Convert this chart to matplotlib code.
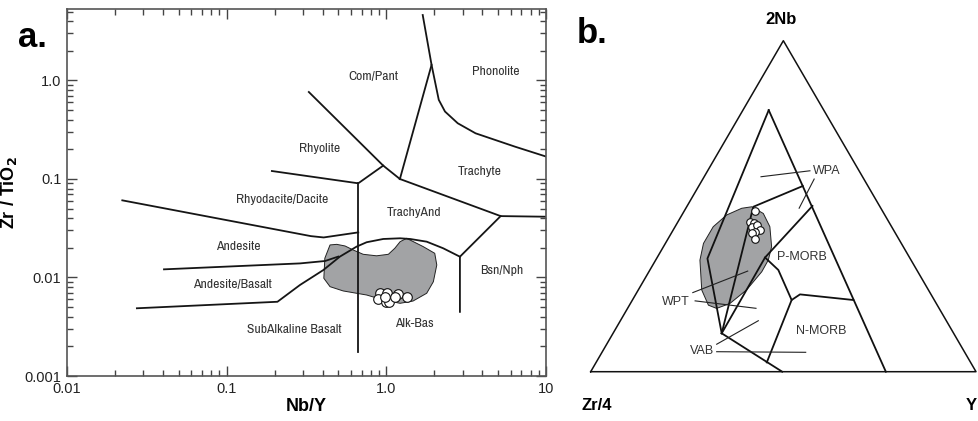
import numpy as np
import matplotlib
matplotlib.use("Agg")
import matplotlib.pyplot as plt
from matplotlib import font_manager
from matplotlib.patches import Polygon
from matplotlib.ticker import LogLocator, NullFormatter

plt.rcParams['font.family'] = ['Liberation Sans', 'DejaVu Sans']

# a narrow face for the field names of panel a, if one is installed
_names = set(f.name for f in font_manager.fontManager.ttflist)
NARROW = dict(family=['Liberation Sans', 'DejaVu Sans'], fontsize=7.4)
for name, size in [('Liberation Sans Narrow', 9.8), ('Arial Narrow', 9.8), ('Archivo Narrow', 9.8)]:
    if name in _names:
        NARROW = dict(family=[name, 'DejaVu Sans'], fontsize=size)
        break

# ---------------- panel a: Zr/TiO2 vs Nb/Y ----------------
rhyodac_and_x = [0.0222, 0.337, 0.405, 0.667]
rhyodac_and_y = [0.0607, 0.0263, 0.0255, 0.0287]
vert_x = [0.667, 0.667]
vert_y = [0.0904, 0.00175]
rhyol_rhyodac_x = [0.192, 0.667, 0.956]
rhyol_rhyodac_y = [0.1205, 0.0904, 0.1367]
rhyol_compant_x = [0.327, 0.956, 1.216]
rhyol_compant_y = [0.764, 0.1367, 0.100]
trachyte_low_x = [1.216, 5.2, 10.0]
trachyte_low_y = [0.100, 0.042, 0.0414]
compant_x = [1.216, 1.92, 1.69]
compant_y = [0.100, 1.44, 4.62]
phonolite_x = [1.92, 2.13, 2.33, 2.80, 3.62, 6.39, 10.0]
phonolite_y = [1.44, 0.636, 0.484, 0.368, 0.291, 0.213, 0.169]
bsn_x = [5.2, 2.89, 2.89]
bsn_y = [0.042, 0.01626, 0.00448]
alkbas_x = [2.89, 2.27, 1.79, 1.41, 1.22, 0.956, 0.753, 0.652, 0.512, 0.403, 0.288, 0.208, 0.0274]
alkbas_y = [0.01626, 0.0198, 0.0231, 0.0246, 0.0250, 0.0246, 0.0228, 0.0206, 0.0163, 0.0119, 0.0084, 0.00567, 0.00487]
and_bas_x = [0.0405, 0.288, 0.413, 0.500]
and_bas_y = [0.0121, 0.0139, 0.0147, 0.0163]

field_a_x = [0.444, 0.412, 0.406, 0.444, 0.537, 0.753, 0.957, 1.22, 1.47, 1.79, 1.97, 2.07,
             2.01, 1.70, 1.34, 1.22, 1.13, 1.03, 0.869, 0.716, 0.621, 0.551, 0.489]
field_a_y = [0.0214, 0.0157, 0.00982, 0.00807, 0.00730, 0.00664, 0.00592, 0.00547, 0.00577,
             0.00692, 0.00906, 0.0134, 0.0176, 0.0206, 0.0250, 0.0231, 0.0198, 0.0172,
             0.0166, 0.0172, 0.0190, 0.0209, 0.0217]

samples_nby = [0.912, 1.01, 1.19, 1.34, 0.889, 0.993, 1.04, 1.13, 0.98]
samples_zrti = [0.00701, 0.00692, 0.00675, 0.00638, 0.00601, 0.00568, 0.00560, 0.00630, 0.00630]

labels_a = ['Com/Pant', 'Phonolite', 'Rhyolite', 'Trachyte', 'Rhyodacite/Dacite', 'TrachyAnd',
            'Andesite', 'Andesite/Basalt', 'SubAlkaline Basalt', 'Alk-Bas', 'Bsn/Nph']
labels_a_x = [0.835, 4.85, 0.384, 3.85, 0.224, 1.49, 0.1175, 0.109, 0.264, 1.49, 5.3]
labels_a_y = [1.11, 1.22, 0.206, 0.1205, 0.0612, 0.0462, 0.0206, 0.00853, 0.00298, 0.00343, 0.01164]

# ---------------- panel b: Zr/4 - 2Nb - Y ----------------
# ternary points given as (Zr/4, 2Nb, Y) fractions
inner_left = [(0.143, 0.791, 0.067), (0.526, 0.342, 0.132), (0.602, 0.116, 0.282)]
inner_right = [(0.143, 0.791, 0.067), (0.234, 0.0, 0.766)]
wpt_mid = [(0.602, 0.116, 0.282), (0.329, 0.4985, 0.173), (0.169, 0.561, 0.270)]
pmorb_line = [(0.602, 0.116, 0.282), (0.375, 0.345, 0.280), (0.174, 0.5005, 0.325)]
pmorb_nmorb = [(0.375, 0.345, 0.280), (0.359, 0.307, 0.333), (0.370, 0.2165, 0.413),
               (0.340, 0.2336, 0.4265), (0.210, 0.2165, 0.573)]
nmorb_left = [(0.370, 0.2165, 0.413), (0.529, 0.028, 0.443)]
vab_base = [(0.602, 0.116, 0.282), (0.503, 0.0, 0.497)]

field_b_zr = [0.333, 0.313, 0.316, 0.342, 0.370, 0.405, 0.472, 0.535, 0.577, 0.594, 0.589,
              0.548, 0.514, 0.463, 0.410, 0.361]
field_b_nb = [0.4985, 0.478, 0.438, 0.378, 0.337, 0.302, 0.247, 0.206, 0.191, 0.201, 0.247,
              0.337, 0.388, 0.438, 0.473, 0.4935]
field_b_y = [0.169, 0.209, 0.246, 0.281, 0.292, 0.293, 0.281, 0.258, 0.231, 0.205, 0.165,
             0.115, 0.099, 0.099, 0.116, 0.145]

samples_zr = [0.330, 0.361, 0.352, 0.363, 0.348, 0.347, 0.362, 0.373, 0.373]
samples_nb = [0.486, 0.451, 0.448, 0.438, 0.443, 0.428, 0.423, 0.418, 0.401]
samples_y = [0.183, 0.188, 0.200, 0.199, 0.209, 0.225, 0.215, 0.209, 0.226]


def tern(zr, nb, y):
    zr, nb, y = np.asarray(zr, float), np.asarray(nb, float), np.asarray(y, float)
    s = zr + nb + y
    nb, y = nb / s, y / s
    return y + nb / 2.0, nb


W, H = 979, 421
fig = plt.figure(figsize=(W / 100, H / 100), dpi=100)

# ---- panel a ----
ax = fig.add_axes([67 / W, (H - 376) / H, (546 - 67) / W, (376 - 9.3) / H])
ax.set_xscale('log')
ax.set_yscale('log')
ax.set_xlim(0.01, 10)
ax.set_ylim(0.001, 5.28)

ax.add_patch(Polygon(list(zip(field_a_x, field_a_y)), closed=True, facecolor='#a2a3a5',
                     edgecolor='#222222', lw=0.7, zorder=1))
lk = dict(color='#151515', lw=1.3, zorder=2, solid_joinstyle='round')
for xs, ys in [(rhyodac_and_x, rhyodac_and_y), (vert_x, vert_y), (rhyol_rhyodac_x, rhyol_rhyodac_y),
               (rhyol_compant_x, rhyol_compant_y), (trachyte_low_x, trachyte_low_y),
               (compant_x, compant_y), (phonolite_x, phonolite_y), (bsn_x, bsn_y),
               (alkbas_x, alkbas_y), (and_bas_x, and_bas_y)]:
    ax.plot(xs, ys, **lk)
ax.scatter(samples_nby, samples_zrti, s=48, facecolor='white', edgecolor='#111111', lw=0.8, zorder=3)

for t, x, y in zip(labels_a, labels_a_x, labels_a_y):
    ax.text(x, y, t, ha='center', va='center', color='#333333', **NARROW)

ax.set_xticks([0.01, 0.1, 1, 10])
ax.set_xticklabels(['0.01', '0.1', '1.0', '10'])
ax.set_yticks([0.001, 0.01, 0.1, 1])
ax.set_yticklabels(['0.001', '0.01', '0.1', '1.0'])
ax.xaxis.set_minor_locator(LogLocator(base=10, subs=np.arange(2, 10)))
ax.yaxis.set_minor_locator(LogLocator(base=10, subs=np.arange(2, 10)))
ax.xaxis.set_minor_formatter(NullFormatter())
ax.yaxis.set_minor_formatter(NullFormatter())
ax.tick_params(which='both', direction='in', top=True, right=True, colors='#444444',
               labelcolor='#222222', labelsize=10.5, width=1.0)
ax.tick_params(which='major', length=7, pad=4)
ax.tick_params(which='minor', length=4)
for sp in ax.spines.values():
    sp.set_color('#555555')
    sp.set_linewidth(1.2)
ax.set_xlabel('Nb/Y', fontsize=13, fontweight='bold', labelpad=2)
ax.set_ylabel(r'Zr / TiO$_\mathbf{2}$', fontsize=13, fontweight='bold', labelpad=4)

fig.text(18 / W, 1 - 47 / H, 'a.', fontsize=25, fontweight='bold', va='baseline')
fig.text(577 / W, 1 - 43 / H, 'b.', fontsize=25, fontweight='bold', va='baseline')

# ---- panel b ----
bx = fig.add_axes([590.7 / W, (H - 371.7) / H, 385.3 / W, 331 / H])
bx.set_xlim(0, 1)
bx.set_ylim(0, 1)
bx.axis('off')

fx, fy = tern(field_b_zr, field_b_nb, field_b_y)
bx.add_patch(Polygon(np.column_stack([fx, fy]), closed=True, facecolor='#a2a3a5',
                     edgecolor='#222222', lw=0.7, zorder=1))
ox, oy = tern([1, 0, 0, 1], [0, 1, 0, 0], [0, 0, 1, 0])
bx.plot(ox, oy, color='#111111', lw=1.1, zorder=2, clip_on=False)
for seg in [inner_left, inner_right, wpt_mid, pmorb_line, pmorb_nmorb, nmorb_left, vab_base]:
    zr, nb, y = zip(*seg)
    sx, sy = tern(zr, nb, y)
    bx.plot(sx, sy, color='#111111', lw=1.3, zorder=2, clip_on=False, solid_joinstyle='round')
px, py = tern(samples_zr, samples_nb, samples_y)
bx.scatter(px, py, s=30, facecolor='white', edgecolor='#111111', lw=0.8, zorder=3, clip_on=False)

# leader lines and field names
ll = dict(color='#222222', lw=0.8, zorder=2)
bx.plot([0.442, 0.569], [0.589, 0.607], **ll)
bx.plot([0.580, 0.541], [0.582, 0.494], **ll)
bx.plot([0.265, 0.4075], [0.239, 0.304], **ll)
bx.plot([0.271, 0.429], [0.214, 0.1915], **ll)
bx.plot([0.327, 0.435], [0.083, 0.154], **ll)
bx.plot([0.327, 0.558], [0.0604, 0.0586], **ll)
tk = dict(fontsize=9, color='#333333', va='center')
bx.text(0.578, 0.607, 'WPA', ha='left', **tk)
bx.text(0.548, 0.347, 'P-MORB', ha='center', **tk)
bx.text(0.598, 0.123, 'N-MORB', ha='center', **tk)
bx.text(0.221, 0.2115, 'WPT', ha='center', **tk)
bx.text(0.290, 0.0625, 'VAB', ha='center', **tk)

fig.text(781 / W, 1 - 20 / H, '2Nb', fontsize=12, fontweight='bold', ha='center', va='center')
fig.text(597 / W, 1 - 405 / H, 'Zr/4', fontsize=12, fontweight='bold', ha='center', va='center')
fig.text(977 / W, 1 - 405 / H, 'Y', fontsize=12, fontweight='bold', ha='right', va='center')

fig.savefig('out.png', dpi=100)
